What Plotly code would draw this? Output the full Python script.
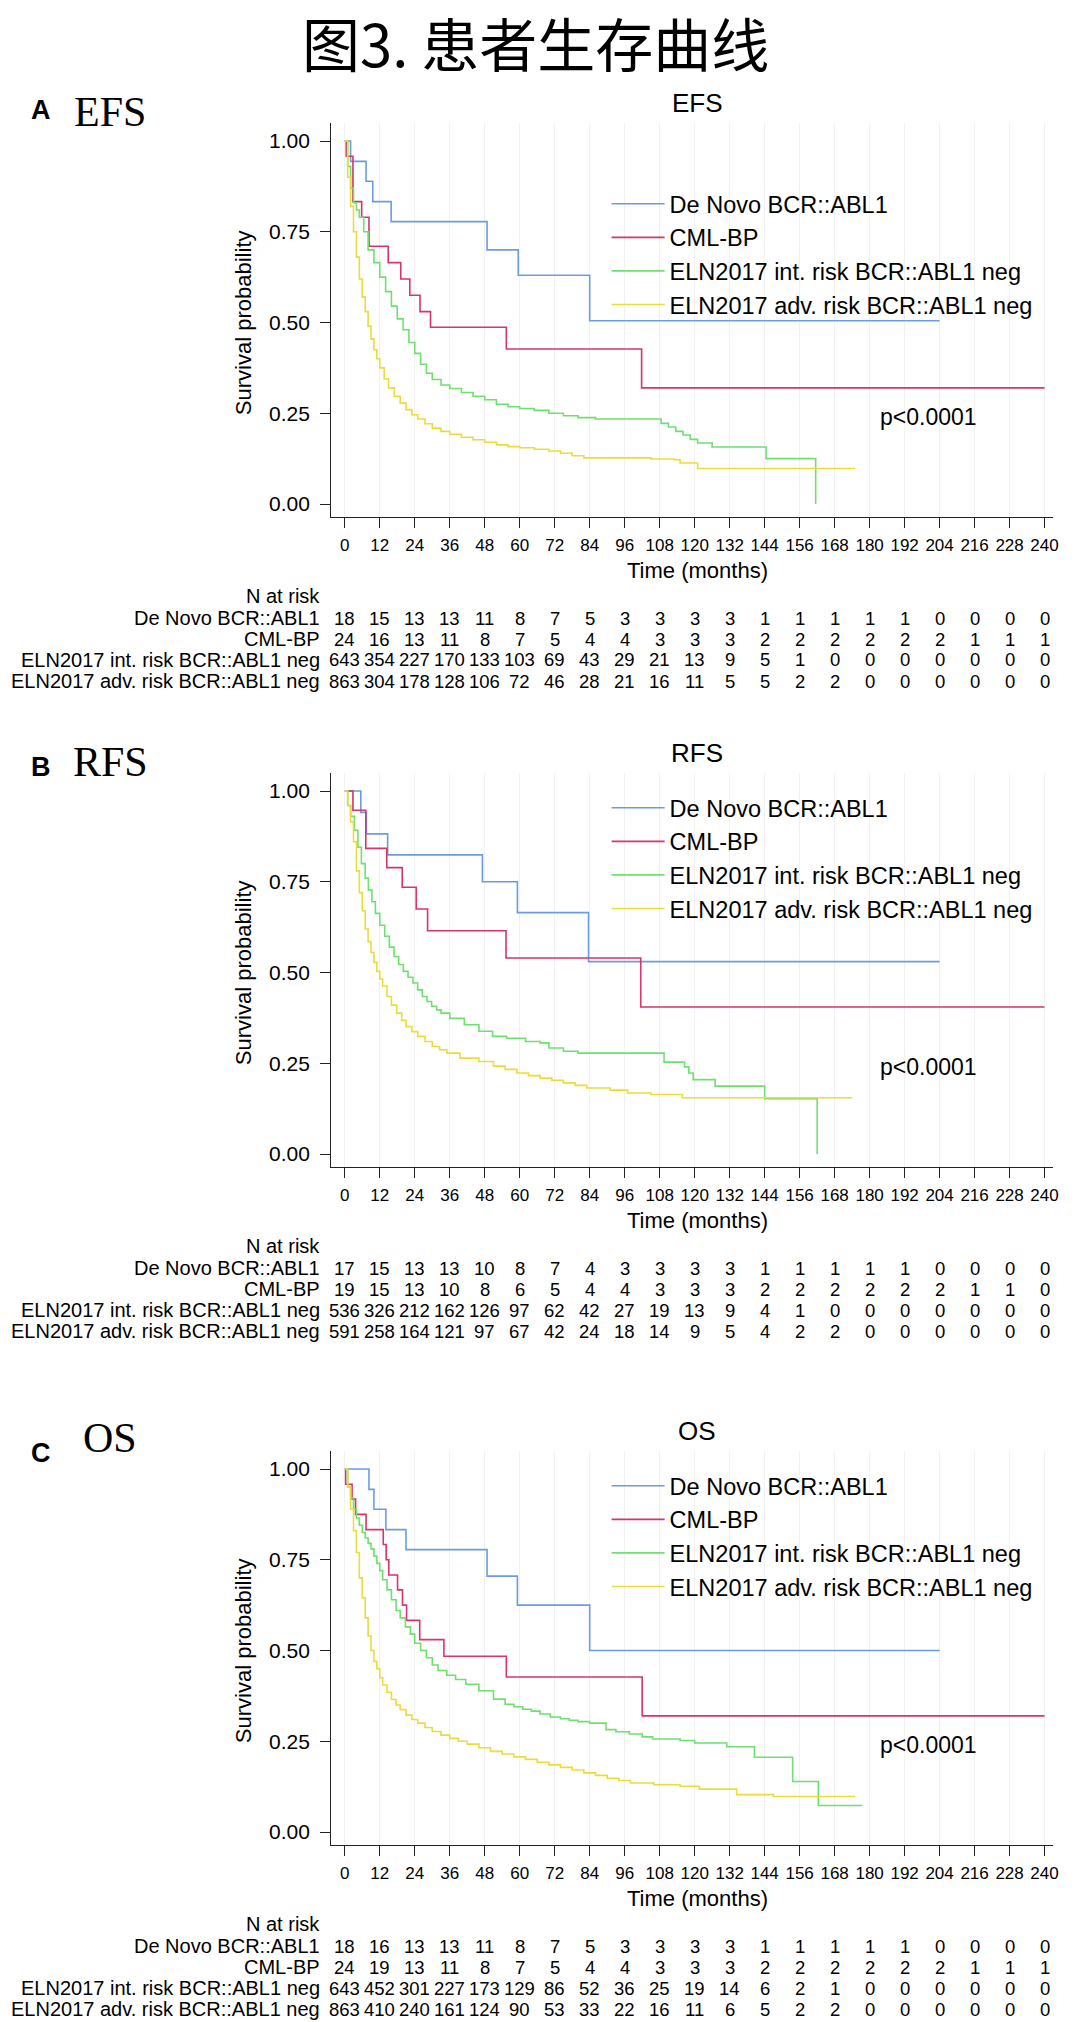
import plotly.graph_objects as go

W, H = 1080, 2022

# ---------------- data ----------------
months = list(range(0, 241, 12))
group_names = ["De Novo BCR::ABL1", "CML-BP",
               "ELN2017 int. risk BCR::ABL1 neg", "ELN2017 adv. risk BCR::ABL1 neg"]
colors = ["#6b9be3", "#d5346f", "#6fe06f", "#ecdb3a"]

# EFS
efs_denovo_t = [0, 2, 7.3, 9.6, 15.9, 48.8, 59.5, 84, 204]
efs_denovo_s = [1, 0.944, 0.889, 0.833, 0.778, 0.70, 0.63, 0.505, 0.505]
efs_cml_t = [0, 0.5, 2.8, 5.8, 8.3, 14.9, 19.2, 22.3, 25.8, 29.4, 55.4, 101.8, 240]
efs_cml_s = [1, 0.958, 0.833, 0.79, 0.71, 0.665, 0.62, 0.575, 0.53, 0.487, 0.427, 0.32, 0.32]
efs_int_t = [0, 1, 2, 3, 4, 5, 6.5, 8, 10, 12, 14, 16, 18, 20, 22, 24, 26, 28, 30, 33, 36, 40,
             44, 48, 52, 56, 60, 65, 70, 75, 80, 86, 108.5, 111, 113.5, 116, 118.5, 121, 126,
             144.5, 161.5]
efs_int_s = [1, 0.93, 0.87, 0.83, 0.81, 0.79, 0.75, 0.70, 0.665, 0.625, 0.585, 0.545, 0.51,
             0.48, 0.445, 0.415, 0.385, 0.36, 0.343, 0.328, 0.318, 0.307, 0.297, 0.287, 0.275,
             0.268, 0.263, 0.258, 0.25, 0.243, 0.238, 0.234, 0.222, 0.212, 0.2, 0.19, 0.178,
             0.168, 0.157, 0.125, 0.0]
efs_adv_t = [0, 1, 2, 3, 4, 5, 6, 7, 8, 9, 10, 11, 12, 13.5, 15, 17, 19, 21, 23, 25, 27.5, 30,
             33, 36, 40, 44, 48, 52, 56, 60, 65, 70, 74, 78, 82, 105, 113, 115, 121, 175]
efs_adv_s = [1, 0.9, 0.82, 0.75, 0.68, 0.62, 0.57, 0.53, 0.49, 0.455, 0.425, 0.4, 0.375, 0.345,
             0.32, 0.297, 0.278, 0.26, 0.246, 0.234, 0.221, 0.209, 0.2, 0.192, 0.184, 0.177,
             0.17, 0.163, 0.158, 0.155, 0.151, 0.146, 0.14, 0.133, 0.127, 0.124, 0.122, 0.113,
             0.098, 0.098]

# RFS
rfs_denovo_t = [0, 5.5, 7.4, 14.7, 47.2, 59.2, 83.6, 204]
rfs_denovo_s = [1, 0.941, 0.882, 0.824, 0.75, 0.665, 0.53, 0.53]
rfs_cml_t = [0, 2.8, 7.2, 14.4, 19.7, 24.5, 28.4, 55.3, 101.5, 240]
rfs_cml_s = [1, 0.947, 0.842, 0.789, 0.735, 0.675, 0.615, 0.54, 0.405, 0.405]
rfs_int_t = [0, 1, 2, 3.3, 4.5, 5.7, 7, 8.1, 9.3, 10.5, 12, 13.7, 15.3, 16.9, 18.5, 20.1, 21.7,
             23.4, 25, 26.6, 28.2, 29.8, 31.5, 33, 36, 41, 46, 50.7, 55.5, 62, 67, 70, 75, 80,
             109.5, 116.5, 118, 119.5, 127, 144, 162]
rfs_int_s = [1, 0.96, 0.93, 0.892, 0.845, 0.80, 0.76, 0.727, 0.695, 0.663, 0.63, 0.60, 0.57,
             0.544, 0.522, 0.503, 0.487, 0.471, 0.452, 0.434, 0.42, 0.407, 0.397, 0.388, 0.374,
             0.356, 0.338, 0.324, 0.319, 0.31, 0.306, 0.292, 0.283, 0.278, 0.253, 0.24, 0.223,
             0.205, 0.187, 0.152, 0.0]
rfs_adv_t = [0, 1, 2, 3, 4, 5, 6, 7, 8, 9, 10, 11, 12, 13, 14.5, 16, 17.8, 19.5, 21, 23, 25,
             27.5, 30, 32.5, 35, 39.5, 46, 51, 55, 59, 63, 67, 71, 75, 79, 83, 91, 97, 105,
             115.8, 174]
rfs_adv_s = [1, 0.96, 0.915, 0.86, 0.78, 0.72, 0.67, 0.62, 0.585, 0.555, 0.528, 0.503, 0.482,
             0.463, 0.434, 0.41, 0.388, 0.368, 0.351, 0.337, 0.324, 0.31, 0.296, 0.287, 0.278,
             0.264, 0.255, 0.242, 0.233, 0.223, 0.216, 0.209, 0.203, 0.196, 0.189, 0.182, 0.176,
             0.168, 0.164, 0.155, 0.155]

# OS
os_denovo_t = [0, 8.3, 10, 14.1, 21, 48.8, 59.2, 84, 204]
os_denovo_s = [1, 0.944, 0.889, 0.833, 0.778, 0.705, 0.625, 0.5, 0.5]
os_cml_t = [0, 0.3, 2.5, 3.7, 7.3, 13.2, 14.2, 15.1, 18.1, 19.8, 21.2, 25.7, 34, 55.4, 102, 240]
os_cml_s = [1, 0.958, 0.917, 0.875, 0.833, 0.792, 0.75, 0.708, 0.667, 0.625, 0.583, 0.53,
            0.484, 0.427, 0.32, 0.32]
os_int_t = [0, 1, 2, 3, 4, 5, 6, 7, 8, 9, 10, 11, 12, 13, 14.5, 16, 17.6, 19, 20.8, 22.5, 24,
            26, 28, 30, 32, 35, 38, 41.5, 46, 51, 55, 58, 61, 64, 67, 70.5, 74, 77, 80, 84, 89.6,
            93, 97.6, 102, 105.6, 115, 120, 131, 140.5, 153.6, 162.4, 177.6]
os_int_s = [1, 0.95, 0.92, 0.89, 0.865, 0.845, 0.825, 0.81, 0.795, 0.78, 0.76, 0.74, 0.72,
            0.695, 0.667, 0.64, 0.61, 0.59, 0.565, 0.545, 0.52, 0.5, 0.48, 0.46, 0.445, 0.432,
            0.42, 0.407, 0.389, 0.366, 0.352, 0.345, 0.338, 0.333, 0.325, 0.317, 0.312, 0.308,
            0.304, 0.3, 0.282, 0.276, 0.27, 0.262, 0.256, 0.252, 0.245, 0.235, 0.206, 0.139,
            0.073, 0.073]
os_adv_t = [0, 1, 2, 3, 4, 5, 6, 7, 8, 9, 10, 11, 12, 13, 14.5, 16, 17.6, 19, 21, 23, 25, 27.5,
            30, 33, 36, 39, 42, 46, 50, 54, 58, 62, 66, 70, 74, 78, 82, 86, 90, 94, 98, 106, 115,
            121.6, 134.4, 147, 175]
os_adv_s = [1, 0.95, 0.89, 0.83, 0.77, 0.70, 0.645, 0.59, 0.54, 0.50, 0.47, 0.45, 0.425, 0.405,
            0.385, 0.365, 0.35, 0.337, 0.322, 0.31, 0.30, 0.288, 0.277, 0.267, 0.258, 0.25,
            0.242, 0.232, 0.222, 0.215, 0.207, 0.20, 0.192, 0.185, 0.178, 0.171, 0.163, 0.156,
            0.148, 0.142, 0.135, 0.13, 0.126, 0.118, 0.103, 0.098, 0.098]

# Numbers at risk (at months 0, 12, ..., 240)
efs_risk_denovo = [18, 15, 13, 13, 11, 8, 7, 5, 3, 3, 3, 3, 1, 1, 1, 1, 1, 0, 0, 0, 0]
efs_risk_cml = [24, 16, 13, 11, 8, 7, 5, 4, 4, 3, 3, 3, 2, 2, 2, 2, 2, 2, 1, 1, 1]
efs_risk_int = [643, 354, 227, 170, 133, 103, 69, 43, 29, 21, 13, 9, 5, 1, 0, 0, 0, 0, 0, 0, 0]
efs_risk_adv = [863, 304, 178, 128, 106, 72, 46, 28, 21, 16, 11, 5, 5, 2, 2, 0, 0, 0, 0, 0, 0]

rfs_risk_denovo = [17, 15, 13, 13, 10, 8, 7, 4, 3, 3, 3, 3, 1, 1, 1, 1, 1, 0, 0, 0, 0]
rfs_risk_cml = [19, 15, 13, 10, 8, 6, 5, 4, 4, 3, 3, 3, 2, 2, 2, 2, 2, 2, 1, 1, 0]
rfs_risk_int = [536, 326, 212, 162, 126, 97, 62, 42, 27, 19, 13, 9, 4, 1, 0, 0, 0, 0, 0, 0, 0]
rfs_risk_adv = [591, 258, 164, 121, 97, 67, 42, 24, 18, 14, 9, 5, 4, 2, 2, 0, 0, 0, 0, 0, 0]

os_risk_denovo = [18, 16, 13, 13, 11, 8, 7, 5, 3, 3, 3, 3, 1, 1, 1, 1, 1, 0, 0, 0, 0]
os_risk_cml = [24, 19, 13, 11, 8, 7, 5, 4, 4, 3, 3, 3, 2, 2, 2, 2, 2, 2, 1, 1, 1]
os_risk_int = [643, 452, 301, 227, 173, 129, 86, 52, 36, 25, 19, 14, 6, 2, 1, 0, 0, 0, 0, 0, 0]
os_risk_adv = [863, 410, 240, 161, 124, 90, 53, 33, 22, 16, 11, 6, 5, 2, 2, 0, 0, 0, 0, 0, 0]

p_text = "p<0.0001"
main_title = "图3. 患者生存曲线"

# ---------------- layout helpers ----------------
def px(x):
    return x / W

def py(y):
    return 1 - y / H

SANS = "Liberation Sans, Arial, sans-serif"
SERIF = "Liberation Serif, Times New Roman, serif"
CJK = "Noto Sans CJK SC, sans-serif"

X_LEFT, X_RIGHT = 333, 1059        # plot area in px
T0_PX, T240_PX = 346.7, 1050.4     # month 0 and 240 positions
PPM = (T240_PX - T0_PX) / 240
XR = [(X_LEFT - T0_PX) / PPM, (X_RIGHT - T0_PX) / PPM]
SPAN = 363                          # px from 1.00 to 0.00
Y_TOP_V, Y_BOT_V = 1.05, -0.037

panels = [
    dict(key="", letter="A", name="EFS", title="EFS", y1=141, letter_dy=-31, name_dy=-29,
         legend_dy=41,
         curves=[(efs_denovo_t, efs_denovo_s), (efs_cml_t, efs_cml_s),
                 (efs_int_t, efs_int_s), (efs_adv_t, efs_adv_s)],
         risk=[efs_risk_denovo, efs_risk_cml, efs_risk_int, efs_risk_adv]),
    dict(key="2", letter="B", name="RFS", title="RFS", y1=791, letter_dy=-24, name_dy=-29,
         legend_dy=-5,
         curves=[(rfs_denovo_t, rfs_denovo_s), (rfs_cml_t, rfs_cml_s),
                 (rfs_int_t, rfs_int_s), (rfs_adv_t, rfs_adv_s)],
         risk=[rfs_risk_denovo, rfs_risk_cml, rfs_risk_int, rfs_risk_adv]),
    dict(key="3", letter="C", name="OS", title="OS", y1=1469, letter_dy=-16, name_dy=-31,
         legend_dy=-5,
         curves=[(os_denovo_t, os_denovo_s), (os_cml_t, os_cml_s),
                 (os_int_t, os_int_s), (os_adv_t, os_adv_s)],
         risk=[os_risk_denovo, os_risk_cml, os_risk_int, os_risk_adv]),
]

fig = go.Figure()
annotations = []
layout_axes = {}

annotations.append(dict(text=main_title, x=px(538), y=py(42), xref="paper", yref="paper",
                        showarrow=False, xanchor="center", yanchor="middle",
                        font=dict(family=CJK, size=58, color="black")))

for p in panels:
    k = p["key"]
    y1 = p["y1"]
    y0 = y1 + SPAN
    top_px = y1 - (Y_TOP_V - 1) * SPAN
    bot_px = y0 - Y_BOT_V * SPAN
    xa = "x" + k
    ya = "y" + k
    leg = "legend" + k

    for (t, s), name, col in zip(p["curves"], group_names, colors):
        fig.add_trace(go.Scatter(x=t, y=s, mode="lines", name=name,
                                 line=dict(color=col, width=1.6, shape="hv"),
                                 xaxis=xa, yaxis=ya, legend=leg, hoverinfo="skip"))

    layout_axes["xaxis" + k] = dict(
        domain=[px(X_LEFT), px(X_RIGHT)], range=XR, anchor=ya,
        tickmode="array", tickvals=months, ticktext=[str(m) for m in months],
        ticks="outside", ticklen=10, tickwidth=1, tickcolor="#222",
        showline=True, linecolor="#222", linewidth=1, mirror=False,
        showgrid=True, gridcolor="#f1f1f1", gridwidth=1, zeroline=False,
        tickfont=dict(family=SANS, size=17, color="black"), ticklabelstandoff=2,
        fixedrange=True)
    layout_axes["yaxis" + k] = dict(
        domain=[py(bot_px), py(top_px)], range=[Y_BOT_V, Y_TOP_V], anchor=xa,
        tickmode="array", tickvals=[0, 0.25, 0.5, 0.75, 1.0],
        ticktext=["0.00", "0.25", "0.50", "0.75", "1.00"],
        ticks="outside", ticklen=10, tickwidth=1, tickcolor="#222",
        showline=True, linecolor="#222", linewidth=1,
        showgrid=False, zeroline=False,
        tickfont=dict(family=SANS, size=21, color="black"), ticklabelstandoff=6,
        fixedrange=True)

    layout_axes[leg] = dict(x=px(610), y=py(y1 + p["legend_dy"]), xanchor="left",
                            yanchor="top", bgcolor="rgba(0,0,0,0)", borderwidth=0,
                            itemwidth=53,
                            font=dict(family=SANS, size=23.5, color="black"),
                            tracegroupgap=0, traceorder="normal")

    # panel letter and name
    annotations.append(dict(text="<b>" + p["letter"] + "</b>", x=px(41), y=py(y1 + p["letter_dy"]),
                            xref="paper", yref="paper", showarrow=False,
                            xanchor="center", yanchor="middle",
                            font=dict(family=SANS, size=27, color="black")))
    annotations.append(dict(text=p["name"], x=px(111), y=py(y1 + p["name_dy"]),
                            xref="paper", yref="paper", showarrow=False,
                            xanchor="center", yanchor="middle",
                            font=dict(family=SERIF, size=42, color="black")))
    # plot title
    annotations.append(dict(text=p["title"], x=px(701), y=py(y1 - 38), xref="paper",
                            yref="paper", showarrow=False, xanchor="center", yanchor="middle",
                            font=dict(family=SANS, size=26, color="black")))
    # axis titles
    annotations.append(dict(text="Survival probability", x=px(245), y=py((y0 + y1) / 2),
                            xref="paper", yref="paper", showarrow=False, textangle=-90,
                            xanchor="center", yanchor="middle",
                            font=dict(family=SANS, size=22, color="black")))
    annotations.append(dict(text="Time (months)", x=px(701), y=py(y0 + 66), xref="paper",
                            yref="paper", showarrow=False, xanchor="center", yanchor="middle",
                            font=dict(family=SANS, size=22, color="black")))
    annotations.append(dict(text=p_text, x=px(934), y=py(y1 + 276), xref="paper",
                            yref="paper", showarrow=False, xanchor="center", yanchor="middle",
                            font=dict(family=SANS, size=23, color="black")))
    # risk table
    annotations.append(dict(text="N at risk", x=px(324), y=py(y0 + 92), xref="paper",
                            yref="paper", showarrow=False, xanchor="right", yanchor="middle",
                            font=dict(family=SANS, size=20, color="black")))
    for i, (name, row) in enumerate(zip(group_names, p["risk"])):
        ry = py(y0 + 114 + 21 * i)
        annotations.append(dict(text=name, x=px(324), y=ry, xref="paper", yref="paper",
                                showarrow=False, xanchor="right", yanchor="middle",
                                font=dict(family=SANS, size=20, color="black")))
        for m, n in zip(months, row):
            annotations.append(dict(text=str(n), x=m, y=ry, xref=xa, yref="paper",
                                    showarrow=False, xanchor="center", yanchor="middle",
                                    font=dict(family=SANS, size=18.5, color="black")))

fig.update_layout(
    width=W, height=H, margin=dict(l=0, r=0, t=0, b=0),
    paper_bgcolor="white", plot_bgcolor="white",
    showlegend=True, annotations=annotations, **layout_axes)

fig.write_html("out.html")
